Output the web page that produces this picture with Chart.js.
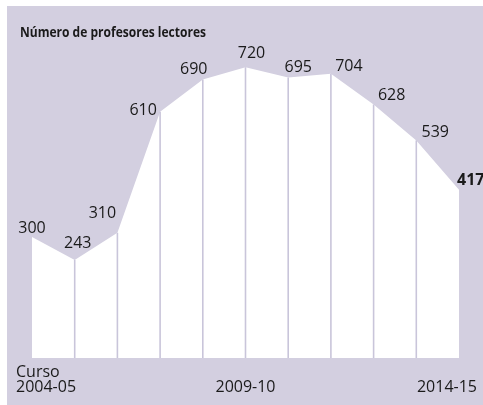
<!DOCTYPE html>
<html>
<head>
<meta charset="utf-8">
<script src="https://cdn.jsdelivr.net/npm/chart.js"></script>
<style>
  html, body { margin: 0; padding: 0; background: #fff; }
  #fondo { position: absolute; left: 7px; top: 6px; width: 476px; height: 399px; background: #d3cfe0; }
  #grafico { position: absolute; left: 0; top: 0; }
</style>
</head>
<body>
<div id="fondo"></div>
<canvas id="grafico" width="483" height="405"></canvas>
<script>
  // Datos
  const cursos = ['2004-05', '2005-06', '2006-07', '2007-08', '2008-09', '2009-10',
                  '2010-11', '2011-12', '2012-13', '2013-14', '2014-15'];
  const profesores = [300, 243, 310, 610, 690, 720, 695, 704, 628, 539, 417];
  const titulo = 'Número de profesores lectores';
  // etiquetas del eje x que se muestran (índice -> texto)
  const etiquetasEje = { 0: ['Curso', '2004-05'], 5: ['2009-10'], 10: ['2014-15'] };

  const FUENTE = '"Open Sans", sans-serif';

  // desplazamiento de cada etiqueta de valor respecto a su punto [dx, dy]
  const ajusteValor = [[0, -4], [3, -12], [-15, -15], [-17, 3], [-9, -5], [6, -9],
                       [10, -5], [18, -3], [18, -4], [19, -3], [-2, -5]];

  // Líneas verticales bajo cada punto interior
  const lineasVerticales = {
    id: 'lineasVerticales',
    afterDatasetsDraw(chart) {
      const ctx = chart.ctx;
      const x = chart.scales.x, y = chart.scales.y;
      ctx.save();
      ctx.strokeStyle = '#c9c5da';
      ctx.lineWidth = 1.6;
      for (let i = 1; i < profesores.length - 1; i++) {
        const px = x.getPixelForValue(i);
        ctx.beginPath();
        ctx.moveTo(px, y.getPixelForValue(profesores[i]));
        ctx.lineTo(px, y.getPixelForValue(0));
        ctx.stroke();
      }
      ctx.restore();
    }
  };

  // Textos: título, valores y eje x
  const textos = {
    id: 'textos',
    afterDraw(chart) {
      const ctx = chart.ctx;
      const x = chart.scales.x, y = chart.scales.y;
      ctx.save();
      ctx.fillStyle = '#1a1a1a';
      ctx.textBaseline = 'alphabetic';

      // título algo condensado, como en el original
      ctx.font = 'bold 14px ' + FUENTE;
      ctx.textAlign = 'left';
      const ancho = ctx.measureText(titulo).width;
      ctx.save();
      ctx.translate(20, 37);
      ctx.scale(186 / ancho, 1);
      ctx.fillText(titulo, 0, 0);
      ctx.restore();

      profesores.forEach((v, i) => {
        const ultimo = i === profesores.length - 1;
        ctx.font = (ultimo ? 'bold ' : '') + '16px ' + FUENTE;
        ctx.textAlign = ultimo ? 'left' : 'center';
        const px = x.getPixelForValue(i) + ajusteValor[i][0];
        const py = y.getPixelForValue(v) + ajusteValor[i][1];
        ctx.fillText(String(v), px, py);
      });

      ctx.font = '16px ' + FUENTE;
      Object.keys(etiquetasEje).forEach(k => {
        const i = Number(k);
        const lineas = etiquetasEje[k];
        const px = x.getPixelForValue(i);
        let tx;
        if (i === 0) { ctx.textAlign = 'left'; tx = px - 16; }
        else if (i === cursos.length - 1) { ctx.textAlign = 'right'; tx = px + 18; }
        else { ctx.textAlign = 'center'; tx = px; }
        const base = 392 - (lineas.length - 1) * 15;
        lineas.forEach((t, j) => ctx.fillText(t, tx, base + j * 15));
      });
      ctx.restore();
    }
  };

  new Chart(document.getElementById('grafico'), {
    type: 'line',
    data: {
      labels: cursos,
      datasets: [{
        data: profesores,
        fill: 'origin',
        backgroundColor: '#ffffff',
        borderColor: '#ffffff',
        borderWidth: 0,
        pointRadius: 0,
        tension: 0
      }]
    },
    options: {
      responsive: false,
      animation: false,
      layout: { padding: { left: 32, right: 24, top: 35, bottom: 47 } },
      scales: {
        x: { display: false, offset: false },
        y: { display: false, min: 0, max: 800 }
      },
      plugins: { legend: { display: false }, tooltip: { enabled: false } }
    },
    plugins: [lineasVerticales, textos]
  });
</script>
</body>
</html>
